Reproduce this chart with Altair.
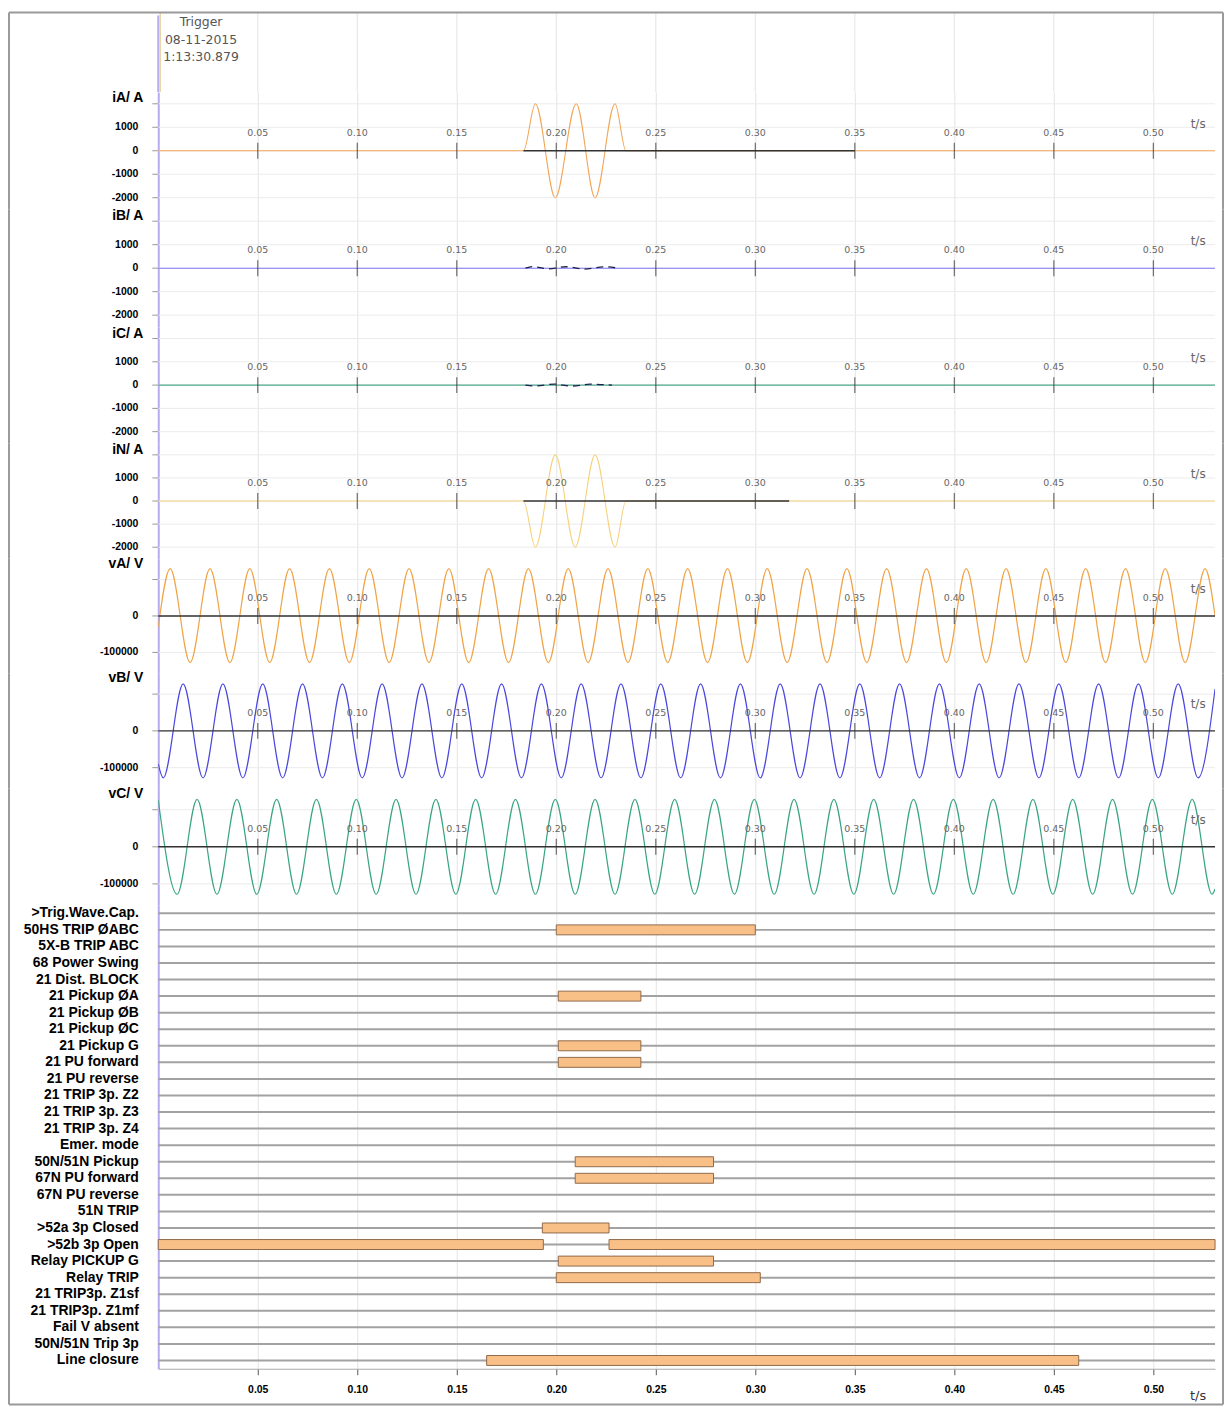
import altair as alt
import pandas as pd

# ---------------- data ----------------
T_MAX = 0.531
TICKS = [0.05, 0.10, 0.15, 0.20, 0.25, 0.30, 0.35, 0.40, 0.45, 0.50]
TICK_LABELS = ["0.05", "0.10", "0.15", "0.20", "0.25", "0.30", "0.35", "0.40", "0.45", "0.50"]

TRIGGER_TEXT = "Trigger\n08-11-2015\n1:13:30.879"

# y-axis ticks and labels
CUR_TICKS = [2000, 1000, 0, -1000, -2000]
CUR_LABEL_VALS = [1000, 0, -1000, -2000]
CUR_LABELS = ["1000", "0", "-1000", "-2000"]
VOLT_TICKS = [100000, 0, -100000]
VOLT_LABEL_VALS = [0, -100000]
VOLT_LABELS = ["0", "-100000"]

# currents (A)
IA_T = [0.0, 0.1835, 0.1895, 0.1995, 0.2100, 0.2195, 0.2295, 0.2350, 0.531]
IA_V = [0, 0, 2000, -2000, 2000, -2000, 2000, 0, 0]
IA_BLACK = (0.1835, 0.350)

IB_T = [0.0, 0.531]
IB_V = [0, 0]
IB_WIG_T = [0.1845, 0.1880, 0.1960, 0.2050, 0.2140, 0.2240, 0.2310]
IB_WIG_V = [0, 70, -30, 60, -40, 60, 0]

IC_T = [0.0, 0.531]
IC_V = [0, 0]
IC_WIG_T = [0.1845, 0.1890, 0.1990, 0.2080, 0.2170, 0.2280]
IC_WIG_V = [0, -40, 40, -40, 40, 0]

IN_T = [0.0, 0.1835, 0.1895, 0.1995, 0.2095, 0.2195, 0.2295, 0.2350, 0.531]
IN_V = [0, 0, -2000, 2000, -2000, 2000, -2000, 0, 0]
IN_BLACK = (0.1835, 0.317)

# voltages (V): times of peaks and troughs, levels, and edge values
VA_PEAKS = [0.006, 0.026, 0.046, 0.066, 0.086, 0.106, 0.126, 0.146, 0.166, 0.186,
            0.206, 0.226, 0.246, 0.266, 0.286, 0.306, 0.326, 0.346, 0.366, 0.386,
            0.406, 0.426, 0.446, 0.466, 0.486, 0.506, 0.526]
VA_TROUGHS = [0.016, 0.036, 0.056, 0.076, 0.096, 0.116, 0.136, 0.156, 0.176, 0.196,
              0.216, 0.236, 0.256, 0.276, 0.296, 0.316, 0.336, 0.356, 0.376, 0.396,
              0.416, 0.436, 0.456, 0.476, 0.496, 0.516]
VA_LEVELS = (130000, -128000)
VA_EDGES = ((0.0, -30000), (0.531, 0))

VB_PEAKS = [0.0125, 0.0325, 0.0525, 0.0725, 0.0925, 0.1125, 0.1325, 0.1525, 0.1725,
            0.1925, 0.2125, 0.2325, 0.2525, 0.2725, 0.2925, 0.3125, 0.3325, 0.3525,
            0.3725, 0.3925, 0.4125, 0.4325, 0.4525, 0.4725, 0.4925, 0.5125]
VB_TROUGHS = [0.0025, 0.0225, 0.0425, 0.0625, 0.0825, 0.1025, 0.1225, 0.1425, 0.1625,
              0.1825, 0.2025, 0.2225, 0.2425, 0.2625, 0.2825, 0.3025, 0.3225, 0.3425,
              0.3625, 0.3825, 0.4025, 0.4225, 0.4425, 0.4625, 0.4825, 0.5025, 0.5225]
VB_LEVELS = (128000, -128000)
VB_EDGES = ((0.0, -90000), (0.531, 114000))

VC_PEAKS = [0.0195, 0.0395, 0.0595, 0.0795, 0.0995, 0.1195, 0.1395, 0.1595, 0.1795,
            0.1995, 0.2195, 0.2395, 0.2595, 0.2795, 0.2995, 0.3195, 0.3395, 0.3595,
            0.3795, 0.3995, 0.4195, 0.4395, 0.4595, 0.4795, 0.4995, 0.5195]
VC_TROUGHS = [0.0095, 0.0295, 0.0495, 0.0695, 0.0895, 0.1095, 0.1295, 0.1495, 0.1695,
              0.1895, 0.2095, 0.2295, 0.2495, 0.2695, 0.2895, 0.3095, 0.3295, 0.3495,
              0.3695, 0.3895, 0.4095, 0.4295, 0.4495, 0.4695, 0.4895, 0.5095, 0.5295]
VC_LEVELS = (128000, -128000)
VC_EDGES = ((0.0, 126000), (0.531, -114000))

# binary channels
CHANNELS = [">Trig.Wave.Cap.", "50HS TRIP ØABC", "5X-B TRIP ABC", "68 Power Swing",
            "21 Dist. BLOCK", "21 Pickup ØA", "21 Pickup ØB", "21 Pickup ØC",
            "21 Pickup G", "21 PU forward", "21 PU reverse", "21 TRIP 3p. Z2",
            "21 TRIP 3p. Z3", "21 TRIP 3p. Z4", "Emer. mode", "50N/51N Pickup",
            "67N PU forward", "67N PU reverse", "51N TRIP", ">52a 3p Closed",
            ">52b 3p Open", "Relay PICKUP G", "Relay TRIP", "21 TRIP3p. Z1sf",
            "21 TRIP3p. Z1mf", "Fail V absent", "50N/51N Trip 3p", "Line closure"]
BAR_CH = ["50HS TRIP ØABC", "21 Pickup ØA", "21 Pickup G", "21 PU forward",
          "50N/51N Pickup", "67N PU forward", ">52a 3p Closed", ">52b 3p Open",
          ">52b 3p Open", "Relay PICKUP G", "Relay TRIP", "Line closure"]
BAR_START = [0.200, 0.201, 0.201, 0.201, 0.2095, 0.2095, 0.193, 0.000, 0.2265, 0.201, 0.200, 0.165]
BAR_END = [0.300, 0.2425, 0.2425, 0.2425, 0.279, 0.279, 0.2265, 0.1935, 0.531, 0.279, 0.3025, 0.4625]

# ---------------- styling ----------------
PLOT_W = 1062
LEFT = 150
PURPLE = "#b8aaee"
FRAME = "#9a9a9a"
GRID = "#e4e4e4"
BOLD_FONT = "Liberation Sans"
SMALL_FONT = "DejaVu Sans"

ONE = pd.DataFrame({"k": [0]})
tick_df = pd.DataFrame({"t": TICKS, "lbl": TICK_LABELS})
xs = alt.Scale(domain=[0, T_MAX], nice=False, zero=False)


def frame_sides(height):
    left = alt.Chart(ONE).mark_rule(color=FRAME, strokeWidth=2).encode(
        x=alt.value(-LEFT), y=alt.value(0), y2=alt.value(height))
    right = alt.Chart(ONE).mark_rule(color=FRAME, strokeWidth=2).encode(
        x=alt.value(PLOT_W + 8), y=alt.value(0), y2=alt.value(height))
    return [left, right]


def wave_points(peaks, troughs, levels, edges):
    pts = [(t, levels[0]) for t in peaks] + [(t, levels[1]) for t in troughs]
    pts += [edges[0], edges[1]]
    pts.sort()
    return pd.DataFrame({"t": [p[0] for p in pts], "v": [p[1] for p in pts]})


def analog_panel(label, trace_df, color, dom, yticks, ylabel_vals, ylabels, top_val,
                 name_dy, height, zero_full=False, black_seg=None, wiggle=None,
                 width_line=1.1):
    ys = alt.Scale(domain=dom, nice=False, zero=False)
    X = alt.X("t:Q", scale=xs, title=None,
              axis=alt.Axis(values=TICKS, grid=True, gridColor=GRID, labels=False,
                            ticks=False, domain=False))
    Y = alt.Y("v:Q", scale=ys, title=None,
              axis=alt.Axis(labels=False, ticks=False, grid=False,
                            domainColor=PURPLE, domainWidth=2))
    ytick_df = pd.DataFrame({"v": yticks})
    ylab_df = pd.DataFrame({"v": ylabel_vals, "lbl": ylabels})
    layers = [
        alt.Chart(ytick_df).mark_rule(color="#ebebeb").encode(y=Y),
        alt.Chart(ytick_df).mark_rule(color="#999").encode(
            x=alt.value(-6), x2=alt.value(0), y=Y),
        alt.Chart(ylab_df).mark_text(
            align="right", baseline="middle", font=BOLD_FONT, fontWeight="bold",
            fontSize=10.5, color="black").encode(x=alt.value(-20), y=Y, text="lbl:N"),
        alt.Chart(trace_df).mark_line(
            color=color, strokeWidth=width_line, interpolate="monotone", clip=True
        ).encode(x=X, y=Y),
    ]
    if wiggle is not None:
        layers.append(alt.Chart(wiggle).mark_line(
            color="#202050", strokeWidth=1.3, interpolate="monotone", strokeDash=[7, 5]
        ).encode(x=X, y=Y))
    if zero_full:
        layers.append(alt.Chart(pd.DataFrame({"v": [0]})).mark_rule(
            color="#333", strokeWidth=1.4).encode(y=Y))
    if black_seg is not None:
        seg = pd.DataFrame({"t": [black_seg[0]], "t2": [black_seg[1]], "v": [0]})
        layers.append(alt.Chart(seg).mark_rule(color="#333", strokeWidth=1.5).encode(
            x=X, x2="t2:Q", y=Y))
    tdf = tick_df.assign(v=0)
    layers.append(alt.Chart(tdf).mark_tick(
        orient="vertical", size=16, thickness=1.2, color="#333").encode(x=X, y=Y))
    layers.append(alt.Chart(tdf).mark_text(
        dy=-18, fontSize=9.5, color="#666", font=SMALL_FONT).encode(
        x=X, y=Y, text="lbl:N"))
    layers.append(alt.Chart(pd.DataFrame({"t": [0.5225], "v": [0]})).mark_text(
        text="t/s", dy=-27, fontSize=12, color="#666", font=SMALL_FONT).encode(
        x=X, y=Y))
    layers.append(alt.Chart(pd.DataFrame({"v": [top_val]})).mark_text(
        text=label, align="right", fontWeight="bold", fontSize=14, font=BOLD_FONT,
        color="black", dy=name_dy).encode(x=alt.value(-15), y=Y))
    layers += frame_sides(height)
    return alt.layer(*layers).properties(width=PLOT_W, height=height)


# ---------------- header ----------------
H_HEAD = 80
head_layers = [
    alt.Chart(tick_df).mark_rule(color=GRID).encode(
        x=alt.X("t:Q", scale=xs, axis=None)),
    alt.Chart(ONE).mark_rule(color="#e6d6a8", strokeWidth=1.5).encode(
        x=alt.value(2), y=alt.value(0), y2=alt.value(H_HEAD)),
    alt.Chart(ONE).mark_rule(color=PURPLE, strokeWidth=2).encode(
        x=alt.value(0), y=alt.value(3), y2=alt.value(H_HEAD)),
    alt.Chart(pd.DataFrame({"txt": [TRIGGER_TEXT]})).mark_text(
        lineBreak="\n", lineHeight=17.5, align="center", baseline="top",
        fontSize=12.5, color="#555", font=SMALL_FONT).encode(
        x=alt.value(43), y=alt.value(4), text="txt:N"),
    alt.Chart(ONE).mark_rule(color=FRAME, strokeWidth=2).encode(
        x=alt.value(-LEFT), x2=alt.value(PLOT_W + 8), y=alt.value(0)),
] + frame_sides(H_HEAD)
header = alt.layer(*head_layers).properties(width=PLOT_W, height=H_HEAD)

# ---------------- analog panels ----------------
CUR_DOM = [-2500, 2500]
VOLT_DOM = [-157000, 157000]

pA = analog_panel("iA/ A", pd.DataFrame({"t": IA_T, "v": IA_V}), "#f2a555",
                  CUR_DOM, CUR_TICKS, CUR_LABEL_VALS, CUR_LABELS, 2000, -6, 118,
                  black_seg=IA_BLACK)
pB = analog_panel("iB/ A", pd.DataFrame({"t": IB_T, "v": IB_V}), "#7b78f2",
                  CUR_DOM, CUR_TICKS, CUR_LABEL_VALS, CUR_LABELS, 2000, -5, 118,
                  wiggle=pd.DataFrame({"t": IB_WIG_T, "v": IB_WIG_V}))
pC = analog_panel("iC/ A", pd.DataFrame({"t": IC_T, "v": IC_V}), "#4fa88e",
                  CUR_DOM, CUR_TICKS, CUR_LABEL_VALS, CUR_LABELS, 2000, -5, 117,
                  wiggle=pd.DataFrame({"t": IC_WIG_T, "v": IC_WIG_V}))
pN = analog_panel("iN/ A", pd.DataFrame({"t": IN_T, "v": IN_V}), "#f6d27e",
                  CUR_DOM, CUR_TICKS, CUR_LABEL_VALS, CUR_LABELS, 2000, -5, 116,
                  black_seg=IN_BLACK)
vA = analog_panel("vA/ V", wave_points(VA_PEAKS, VA_TROUGHS, VA_LEVELS, VA_EDGES), "#f0a448",
                  VOLT_DOM, VOLT_TICKS, VOLT_LABEL_VALS, VOLT_LABELS, 100000, -16, 115,
                  zero_full=True, width_line=1.2)
vB = analog_panel("vB/ V", wave_points(VB_PEAKS, VB_TROUGHS, VB_LEVELS, VB_EDGES), "#4a48de",
                  VOLT_DOM, VOLT_TICKS, VOLT_LABEL_VALS, VOLT_LABELS, 100000, -16, 116,
                  zero_full=True, width_line=1.2)
vC = analog_panel("vC/ V", wave_points(VC_PEAKS, VC_TROUGHS, VC_LEVELS, VC_EDGES), "#3aa585",
                  VOLT_DOM, VOLT_TICKS, VOLT_LABEL_VALS, VOLT_LABELS, 100000, -16, 117,
                  zero_full=True, width_line=1.2)

# ---------------- binary channels ----------------
H_DIG = 466
Yd = alt.Y("ch:N", sort=CHANNELS, title=None,
           scale=alt.Scale(domain=CHANNELS, paddingInner=0, paddingOuter=0),
           axis=alt.Axis(labelFont=BOLD_FONT, labelFontWeight="bold", labelFontSize=14,
                         labelColor="black", labelPadding=20, ticks=False,
                         domainColor=PURPLE, domainWidth=2, grid=False, labelLimit=300,
                         labelOverlap=False))
Xd = alt.X("t:Q", scale=xs, title=None,
           axis=alt.Axis(values=TICKS, format=".2f", labelFont=BOLD_FONT,
                         labelFontWeight="bold", labelFontSize=10.5, labelColor="black",
                         tickSize=6, tickColor="#555", labelPadding=10, grid=True,
                         gridColor=GRID, domain=True, domainColor="#aaa"))
bar_df = pd.DataFrame({"ch": BAR_CH, "t": BAR_START, "t2": BAR_END})
dig_layers = [
    alt.Chart(pd.DataFrame({"ch": CHANNELS})).mark_rule(
        color="#a2a2a2", strokeWidth=2).encode(y=Yd),
    alt.Chart(bar_df).mark_bar(size=10, fill="#f8bf87", stroke="#8f6a4c",
                               strokeWidth=1).encode(x=Xd, x2="t2:Q", y=Yd),
    alt.Chart(ONE).mark_text(text="t/s", fontSize=13, color="#333", font=SMALL_FONT).encode(
        x=alt.datum(0.5225), y=alt.value(H_DIG + 27)),
    alt.Chart(ONE).mark_rule(color=FRAME, strokeWidth=2).encode(
        x=alt.value(-LEFT), x2=alt.value(PLOT_W + 8), y=alt.value(H_DIG + 36)),
    alt.Chart(ONE).mark_rule(color=FRAME, strokeWidth=2).encode(
        x=alt.value(-LEFT), y=alt.value(0), y2=alt.value(H_DIG + 36)),
    alt.Chart(ONE).mark_rule(color=FRAME, strokeWidth=2).encode(
        x=alt.value(PLOT_W + 8), y=alt.value(0), y2=alt.value(H_DIG + 36)),
]
digital = alt.layer(*dig_layers).properties(width=PLOT_W, height=H_DIG)

chart = alt.vconcat(header, pA, pB, pC, pN, vA, vB, vC, digital,
                    spacing=0, bounds="flush").resolve_scale(
    x="independent", y="independent").configure_view(stroke=None).properties(
    padding={"left": 0, "top": 0, "right": 0, "bottom": 0}, background="white")

chart.save("out.html", embed_options={"renderer": "svg", "actions": False})
